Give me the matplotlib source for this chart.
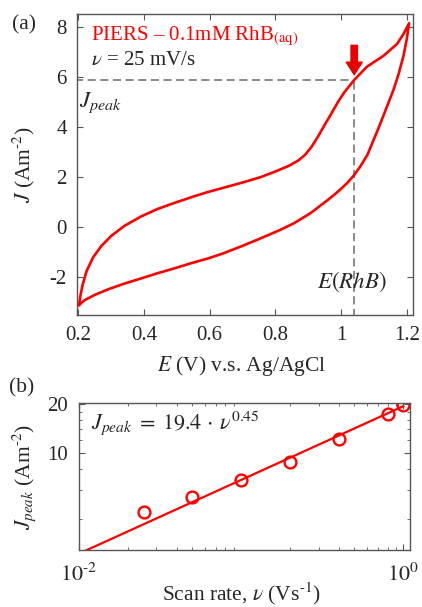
import numpy as np
import matplotlib
matplotlib.use('Agg')
import matplotlib.pyplot as plt
from matplotlib import ticker

plt.rcParams['font.family'] = ['Liberation Serif', 'DejaVu Serif']
plt.rcParams['mathtext.fontset'] = 'stix'
plt.rcParams['axes.unicode_minus'] = False

# (a) cyclic voltammogram, 0.1 mM RhB, 25 mV/s
E_fwd = [0.202, 0.206, 0.212, 0.225, 0.245, 0.270, 0.300, 0.340, 0.390, 0.440,
         0.493, 0.550, 0.594, 0.650, 0.700, 0.756, 0.800, 0.840, 0.870, 0.890,
         0.910, 0.930, 0.950, 0.970, 0.990, 1.010, 1.040, 1.079, 1.129, 1.170,
         1.190, 1.207]
J_fwd = [-3.10, -2.75, -2.35, -1.75, -1.20, -0.75, -0.35, 0.05, 0.42, 0.72,
         0.97, 1.22, 1.40, 1.60, 1.78, 2.00, 2.22, 2.44, 2.66, 2.88,
         3.20, 3.62, 4.08, 4.52, 4.98, 5.38, 5.87, 6.40, 6.83, 7.30,
         7.70, 8.13]
E_rev = [1.207, 1.200, 1.190, 1.175, 1.160, 1.135, 1.114, 1.080, 1.060, 1.040,
         1.020, 1.000, 0.980, 0.958, 0.907, 0.857, 0.816, 0.756, 0.695, 0.640,
         0.594, 0.540, 0.493, 0.440, 0.392, 0.340, 0.290, 0.250, 0.220, 0.202]
J_rev = [8.13, 7.50, 6.83, 6.10, 5.49, 4.65, 3.95, 2.88, 2.45, 2.08,
         1.78, 1.53, 1.30, 1.07, 0.56, 0.16, -0.10, -0.44, -0.77, -1.05,
         -1.25, -1.45, -1.64, -1.84, -2.04, -2.25, -2.48, -2.70, -2.90, -3.10]
E_peak = 1.04
J_peak = 5.86

# (b) peak current vs scan rate
scan_rate = [0.025, 0.05, 0.1, 0.2, 0.4, 0.8, 1.0]
J_peaks = [4.36, 5.45, 6.87, 8.9, 12.3, 17.5, 19.8]
fit_A = 19.4
fit_n = 0.45

red = '#ff0000'
spine_col = '#555555'
txt_col = '#262626'
fs = 15

fig = plt.figure(figsize=(4.22, 6.07), dpi=100)
ax1 = fig.add_axes([0.1818, 0.4811, 0.7969, 0.4959])
ax2 = fig.add_axes([0.1872, 0.0939, 0.7844, 0.2422])

for ax in (ax1, ax2):
    for s in ax.spines.values():
        s.set_color(spine_col)
        s.set_linewidth(1.0)
    ax.tick_params(which='both', direction='in', top=True, right=True,
                   colors=spine_col, labelcolor=txt_col, labelsize=fs)
    ax.tick_params(which='major', length=4)
    ax.tick_params(which='minor', length=2.5)

# ---- panel (a)
E_cv = E_fwd + E_rev
J_cv = J_fwd + J_rev
ax1.plot(E_cv, J_cv, color=red, lw=1.9, zorder=3, solid_joinstyle='round')
ax1.plot([0.19, E_peak], [J_peak, J_peak], color='#808080', lw=1.3,
         ls=(0, (4.5, 2.5)), zorder=2)
ax1.plot([E_peak, E_peak], [-3.6, J_peak], color='#808080', lw=1.3,
         ls=(0, (4.5, 2.5)), zorder=2)
ax1.annotate('', xy=(E_peak, 6.08), xytext=(E_peak, 7.25),
             arrowprops=dict(color='#e60000', width=4.6, headwidth=11.5,
                             headlength=9, shrink=0))
ax1.set_xlim(0.195, 1.219)
ax1.set_ylim(-3.5, 8.5)
ax1.set_xticks([0.2, 0.4, 0.6, 0.8, 1.0, 1.2])
ax1.set_xticklabels(['0.2', '0.4', '0.6', '0.8', '1', '1.2'])
ax1.set_yticks([-2, 0, 2, 4, 6, 8])
ax1.tick_params(axis='x', pad=8)
ax1.tick_params(axis='y', pad=7)
ax1.set_xlabel(r'$E$ (V) v.s. Ag/AgCl', fontsize=15.5, color=txt_col)
ax1.set_ylabel(r'$J$ (Am$^{\text{-2}}$)', fontsize=15.5, color=txt_col)
ax1.xaxis.set_label_coords(0.49, -0.13)
ax1.yaxis.set_label_coords(-0.118, 0.5)

ax1.text(0.237, 7.62, r'PIERS – 0.1mM RhB$_{\text{(aq)}}$', color=red,
         fontsize=15, va='center', ha='left')
ax1.text(0.237, 6.63, r'$\nu$ = 25 mV/s', color=txt_col, fontsize=15,
         va='center', ha='left')
ax1.text(0.203, 4.97, r'$J_{peak}$', color=txt_col, fontsize=16.5,
         va='center', ha='left')
ax1.text(0.928, -2.17, r'$E(RhB)$', color=txt_col, fontsize=16.5,
         va='center', ha='left')

# ---- panel (b)
nu_line = np.array([0.01, 1.0])
ax2.plot(nu_line, fit_A * nu_line ** fit_n, color=red, lw=1.6)
ax2.plot(scan_rate, J_peaks, 'o', mfc='none', mec=red, mew=1.7, ms=8.5)
ax2.set_xscale('log')
ax2.set_yscale('log')
ax2.set_xlim(0.01, 1.1)
ax2.set_ylim(2.57, 20.3)
ax2.xaxis.set_major_locator(ticker.FixedLocator([0.01, 1.0]))
ax2.xaxis.set_minor_locator(ticker.LogLocator(base=10, subs=np.arange(2, 10), numticks=10))
ax2.xaxis.set_major_formatter(ticker.FixedFormatter([r'$10^{\text{-2}}$', r'$10^{0}$']))
ax2.xaxis.set_minor_formatter(ticker.NullFormatter())
ax2.yaxis.set_major_locator(ticker.FixedLocator([10, 20]))
ax2.yaxis.set_major_formatter(ticker.FixedFormatter(['10', '20']))
ax2.yaxis.set_minor_locator(ticker.FixedLocator([4, 6, 8, 12, 14, 16, 18]))
ax2.yaxis.set_minor_formatter(ticker.NullFormatter())
ax2.tick_params(axis='x', pad=10, labelsize=16)
ax2.tick_params(axis='y', pad=8)
ax2.set_xlabel(r'Scan rate, $\nu$ (Vs$^{\text{-1}}$)', fontsize=15.5, color=txt_col)
ax2.set_ylabel(r'$J_{peak}$ (Am$^{\text{-2}}$)', fontsize=15.5, color=txt_col)
ax2.xaxis.set_label_coords(0.49, -0.205)
ax2.yaxis.set_label_coords(-0.124, 0.5)
ax2.text(0.035, 0.864, r'$J_{peak} \;=\; 19.4 \,\cdot\, \nu^{0.45}$', transform=ax2.transAxes,
         fontsize=16, color=txt_col, va='center', ha='left')

fig.text(0.057, 0.959, '(a)', fontsize=15.5, color=txt_col, ha='center', va='center')
fig.text(0.052, 0.361, '(b)', fontsize=15.5, color=txt_col, ha='center', va='center')

fig.savefig('out.png', dpi=100)
